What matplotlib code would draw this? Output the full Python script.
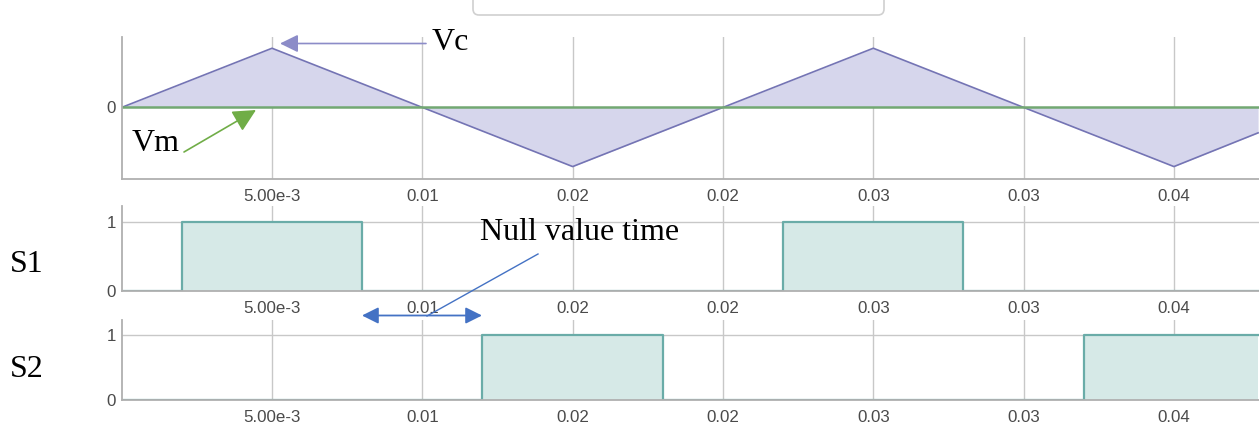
import matplotlib
matplotlib.use("Agg")
import matplotlib.pyplot as plt
from matplotlib.patches import FancyBboxPatch, FancyArrowPatch
from matplotlib.transforms import IdentityTransform

# ---- data ----
carrier_t = [0.0, 0.005, 0.015, 0.025, 0.035, 0.0378]
carrier_v = [0.0, 1.0, -1.0, 1.0, -1.0, -0.43]
vm_t = [0.0, 0.0378]
vm_v = [0.0, 0.0]
s1_t = [0.0, 0.002, 0.008, 0.022, 0.028, 0.0378]
s1_v = [0, 1, 0, 1, 0, 0]
s2_t = [0.0, 0.012, 0.018, 0.032, 0.0378]
s2_v = [0, 1, 0, 1, 1]
x_ticks = [0.005, 0.01, 0.015, 0.02, 0.025, 0.03, 0.035]
x_tick_labels = ["5.00e-3", "0.01", "0.02", "0.02", "0.03", "0.03", "0.04"]

W, H = 1259, 432
fig = plt.figure(figsize=(W / 100, H / 100), dpi=100)

XMAX = 0.03783
grid_c = "#c8c8c8"
spine_c = "#b0b0b0"
tick_c = "#4a4a4a"
tick_font = "Liberation Sans"


def px_axes(left, top, right, bottom):
    return fig.add_axes([left / W, (H - bottom) / H, (right - left) / W, (bottom - top) / H])


def style(ax, yticks, ylabels):
    ax.set_xlim(0, XMAX)
    ax.set_xticks(x_ticks)
    ax.set_xticklabels(x_tick_labels)
    ax.set_yticks(yticks)
    ax.set_yticklabels(ylabels)
    for s in ("top", "right"):
        ax.spines[s].set_visible(False)
    for s in ("left", "bottom"):
        ax.spines[s].set_color(spine_c)
        ax.spines[s].set_linewidth(1.3)
    ax.tick_params(length=0, colors=tick_c, labelsize=12.2)
    ax.tick_params(axis="x", pad=7)
    ax.tick_params(axis="y", pad=4)
    for lab in ax.get_xticklabels() + ax.get_yticklabels():
        lab.set_fontfamily(tick_font)
    ax.grid(True, color=grid_c, lw=1)
    ax.set_axisbelow(True)


# top: carrier and modulating
ax0 = px_axes(121.7, 37, W, 179)
ax0.fill_between(carrier_t, carrier_v, 0, color="#d6d6ec", lw=0)
ax0.plot(carrier_t, carrier_v, color="#7474b4", lw=1.2)
ax0.plot(vm_t, vm_v, color="#72a872", lw=1.8)
ax0.set_ylim(-1.21, 1.19)
style(ax0, [0], ["0"])
ax0.grid(False, axis="y")

# S1
teal_fill = "#d6e9e7"
teal_line = "#6aaca8"
ax1 = px_axes(121.7, 206, W, 291)
ax1.fill_between(s1_t, s1_v, 0, step="post", color=teal_fill, lw=0)
ax1.step(s1_t, s1_v, where="post", color=teal_line, lw=1.6)
ax1.set_ylim(0, 1.23)
style(ax1, [0, 1], ["0", "1"])

# S2
ax2 = px_axes(121.7, 320, W, 400)
ax2.fill_between(s2_t, s2_v, 0, step="post", color=teal_fill, lw=0)
ax2.step(s2_t, s2_v, where="post", color=teal_line, lw=1.6)
ax2.set_ylim(0, 1.23)
style(ax2, [0, 1], ["0", "1"])

# ---- annotations (figure pixel coordinates) ----
serif = "Liberation Serif"
fs = 23


def fp(x, y):
    return (x, H - y)


fig.text(432 / W, (H - 50) / H, "Vc", fontsize=fs, family=serif, ha="left", va="baseline")
fig.text(132 / W, (H - 151) / H, "Vm", fontsize=fs, family=serif, ha="left", va="baseline")
fig.text(10 / W, (H - 272) / H, "S1", fontsize=fs, family=serif, ha="left", va="baseline")
fig.text(10 / W, (H - 377) / H, "S2", fontsize=fs, family=serif, ha="left", va="baseline")
fig.text(480 / W, (H - 240) / H, "Null value time", fontsize=fs, family=serif, ha="left", va="baseline")

fig.add_artist(FancyArrowPatch(
    fp(426, 43.5), fp(280, 43.5), transform=IdentityTransform(),
    arrowstyle="-|>,head_length=0.55,head_width=0.27", mutation_scale=20,
    color="#8c8cc8", lw=1.2, shrinkA=0, shrinkB=0))

fig.add_artist(FancyArrowPatch(
    fp(184, 152), fp(256, 110), transform=IdentityTransform(),
    arrowstyle="-|>,head_length=0.7,head_width=0.35", mutation_scale=20,
    color="#70ad47", lw=1.2, shrinkA=0, shrinkB=0))

fig.add_artist(FancyArrowPatch(
    fp(362, 315.5), fp(482, 315.5), transform=IdentityTransform(),
    arrowstyle="<|-|>,head_length=0.5,head_width=0.25", mutation_scale=20,
    color="#4472c4", lw=1.3, shrinkA=0, shrinkB=0))

fig.add_artist(plt.Line2D([538, 427], [H - 254, H - 316], transform=IdentityTransform(),
                          color="#4472c4", lw=1.0))

# partially visible rounded box at the top
fig.add_artist(FancyBboxPatch((473, H - 15), 411, 60, transform=IdentityTransform(),
                              boxstyle="round,pad=0,rounding_size=6",
                              fc="none", ec="#d0d0d0", lw=1.2))

fig.savefig("out.png", dpi=100)
